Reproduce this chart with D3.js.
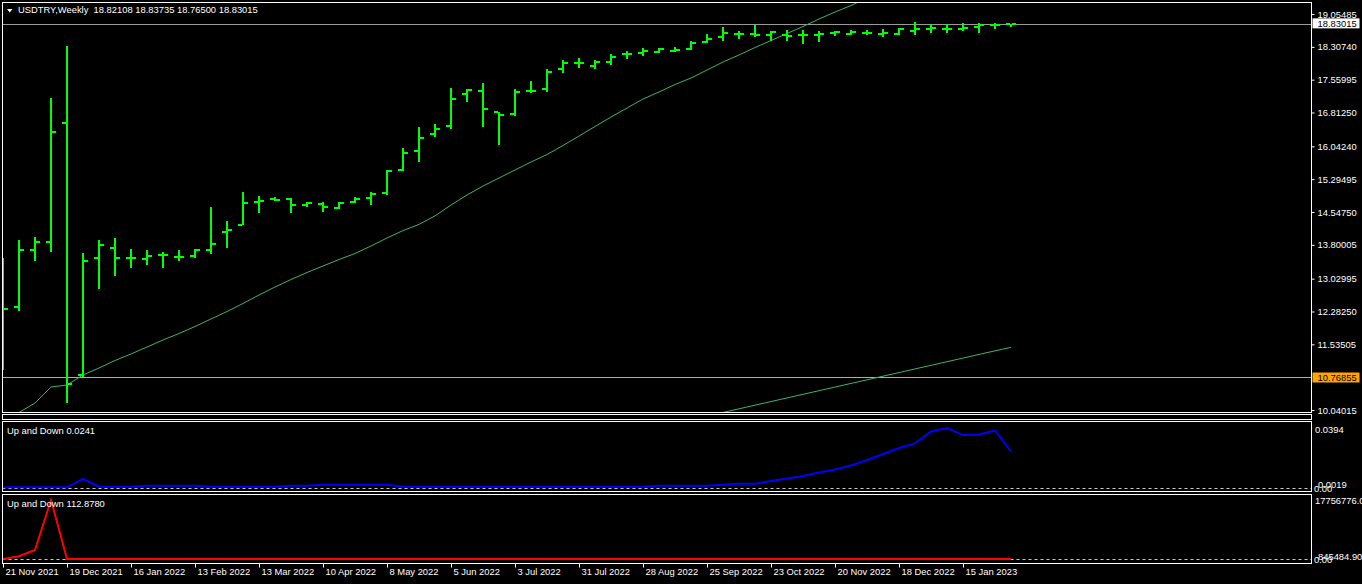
<!DOCTYPE html>
<html><head><meta charset="utf-8">
<script src="https://cdn.jsdelivr.net/npm/d3@7"></script>
<style>
html,body{margin:0;padding:0;background:#000;overflow:hidden}
svg{display:block}
text{font-family:"Liberation Sans",Arial,sans-serif;font-size:9.4px;fill:#fff;white-space:pre}
</style></head><body>
<svg id="c" width="1362" height="584"></svg>
<script>
// ---------- DATA ----------
const symbolTitle = "USDTRY,Weekly  18.82108 18.83735 18.76500 18.83015";
const dateLabels = ["21 Nov 2021","19 Dec 2021","16 Jan 2022","13 Feb 2022","13 Mar 2022","10 Apr 2022","8 May 2022","5 Jun 2022","3 Jul 2022","31 Jul 2022","28 Aug 2022","25 Sep 2022","23 Oct 2022","20 Nov 2022","18 Dec 2022","15 Jan 2023"];
const priceTicks = [19.05485,18.30740,17.55995,16.81250,16.04240,15.29495,14.54750,13.80005,13.02995,12.28250,11.53505,10.04015];
const bidPrice = 18.83015;
const levelPrice = 10.76855;

const open = [11.000,12.392,13.682,13.871,16.566,10.837,13.494,13.721,13.494,13.471,13.569,13.530,13.546,13.682,14.097,14.259,14.782,14.850,14.850,14.714,14.737,14.646,14.775,14.873,14.987,15.511,15.943,16.316,16.512,17.234,17.309,16.831,16.778,17.295,17.354,17.796,17.932,17.877,17.955,18.138,18.160,18.190,18.220,18.265,18.417,18.524,18.593,18.593,18.577,18.585,18.585,18.570,18.615,18.607,18.630,18.600,18.600,18.661,18.706,18.721,18.721,18.767,18.798,18.82108];
const high = [13.500,13.910,13.972,17.136,18.326,13.607,13.910,13.948,13.705,13.682,13.630,13.682,13.698,14.654,14.343,15.003,14.912,14.889,14.860,14.768,14.768,14.768,14.889,15.003,15.504,16.002,16.482,16.551,17.370,17.348,17.484,16.831,17.348,17.530,17.803,18.008,18.053,18.001,18.144,18.205,18.281,18.274,18.297,18.433,18.599,18.752,18.675,18.804,18.661,18.691,18.691,18.661,18.675,18.691,18.691,18.706,18.729,18.866,18.820,18.827,18.843,18.843,18.843,18.83735];
const low = [10.951,12.301,13.439,13.644,10.206,10.798,12.788,13.098,13.280,13.348,13.280,13.439,13.494,13.585,13.735,14.245,14.532,14.791,14.532,14.668,14.555,14.623,14.745,14.714,14.941,15.474,15.692,16.262,16.430,17.058,16.489,16.080,16.740,17.249,17.286,17.719,17.833,17.803,17.900,18.030,18.106,18.174,18.197,18.243,18.402,18.447,18.478,18.524,18.447,18.433,18.379,18.410,18.554,18.584,18.570,18.539,18.584,18.584,18.630,18.615,18.675,18.630,18.706,18.76500];
const close = [12.339,13.682,13.871,16.375,10.632,13.439,13.796,13.507,13.494,13.553,13.569,13.530,13.676,13.819,14.138,14.759,14.805,14.827,14.714,14.752,14.661,14.752,14.850,14.964,15.488,15.897,16.239,16.444,17.127,17.332,16.899,16.755,17.272,17.309,17.741,17.932,17.932,17.955,18.083,18.151,18.213,18.258,18.243,18.402,18.493,18.615,18.593,18.570,18.638,18.554,18.585,18.599,18.638,18.645,18.630,18.615,18.706,18.706,18.729,18.721,18.737,18.798,18.805,18.83015];

const maFast = [9.699,9.983,10.200,10.564,10.609,10.837,10.996,11.167,11.315,11.474,11.634,11.782,11.941,12.112,12.282,12.465,12.658,12.840,13.011,13.170,13.318,13.466,13.603,13.774,13.956,14.125,14.265,14.460,14.707,14.935,15.139,15.321,15.504,15.686,15.856,16.061,16.277,16.494,16.710,16.915,17.120,17.279,17.450,17.598,17.780,17.962,18.122,18.292,18.451,18.611,18.770,18.941,19.100,19.248,19.419,19.580,null,null,null,null,null,null,null,null];
const maSlow = [null,null,null,null,null,null,null,null,null,null,null,null,null,null,null,null,null,null,null,null,null,null,null,null,null,null,null,null,null,null,null,null,null,null,null,null,null,null,null,null,null,null,null,null,null,9.985,10.067,10.150,10.232,10.315,10.397,10.480,10.562,10.645,10.727,10.810,10.892,10.975,11.057,11.140,11.222,11.305,11.387,11.467];

const upDown1 = [0.0008,0.0008,0.0008,0.0008,0.0008,0.0062,0.0012,0.0012,0.0012,0.0018,0.0018,0.0018,0.0018,0.0012,0.0012,0.0012,0.0012,0.0012,0.0018,0.0018,0.0025,0.0025,0.0025,0.0025,0.0025,0.0012,0.0012,0.0012,0.0012,0.0012,0.0012,0.0012,0.0012,0.0012,0.0012,0.0012,0.0012,0.0012,0.0012,0.0012,0.0012,0.0018,0.0018,0.0018,0.0018,0.0025,0.0031,0.0031,0.0049,0.0065,0.0081,0.0104,0.0124,0.0150,0.0186,0.0225,0.0264,0.0294,0.0371,0.0394,0.0348,0.0352,0.0378,0.0241];
const upDown2 = [30000,845484.9,2709000,17756776,160.4,148.2,139.7,131.9,127.3,125.8,122.4,119.6,121.3,118.7,116.2,115.8,117.4,114.9,113.6,115.1,116.8,114.2,112.9,113.5,115.7,118.3,117.1,114.6,116.9,119.2,118.4,117.3,115.5,114.8,113.9,114.4,115.2,114.7,113.8,113.4,114.1,113.6,113.2,113.9,114.5,113.7,113.1,112.8,113.3,113.6,113.0,112.7,113.2,113.5,113.1,112.9,113.4,113.0,112.6,112.9,113.2,112.7,112.9,112.878];
const upDown1Title = "Up and Down 0.0241";
const upDown2Title = "Up and Down 112.8780";

// ---------- LAYOUT ----------
const svg = d3.select('#c');
svg.append('rect').attr('width',1362).attr('height',584).attr('fill','#000');
const L = 2.5, Rr = 1311.5;
const panels = {
  main:{top:2.5,bottom:412.5},
  empty:{top:414.5,bottom:419.5},
  sub1:{top:421.5,bottom:491.5},
  sub2:{top:494.5,bottom:563.5}
};
const defs = svg.append('defs');
Object.entries(panels).forEach(([k,p])=>{
  defs.append('clipPath').attr('id','clip-'+k).append('rect')
    .attr('x',L+0.5).attr('y',p.top+0.5).attr('width',Rr-L-1).attr('height',p.bottom-p.top-1);
});

const x = d3.scaleLinear().domain([0,63]).range([3,1011]);
const y = d3.scaleLinear().domain([10.04015,19.05485]).range([410,14]);
const y1 = d3.scaleLinear().domain([0,0.0394]).range([488.5,428]);
const y2 = d3.scaleLinear().domain([0,17756776]).range([559,500]);

// ---------- MAIN PANEL ----------
const gMain = svg.append('g').attr('clip-path','url(#clip-main)');

gMain.append('line').attr('x1',L).attr('x2',Rr)
  .attr('y1',Math.round(y(bidPrice))+0.5).attr('y2',Math.round(y(bidPrice))+0.5)
  .attr('stroke','#9a9a9a').attr('stroke-width',1);
gMain.append('line').attr('x1',L).attr('x2',Rr)
  .attr('y1',Math.round(y(levelPrice))-0.5).attr('y2',Math.round(y(levelPrice))-0.5)
  .attr('stroke','#ffa500').attr('stroke-width',1);

const maLine = (ys)=>d3.line().defined(d=>d!=null).x((d,i)=>x(i)).y(d=>ys(d));
gMain.append('path').datum(maFast).attr('d',maLine(y)).attr('fill','none')
  .attr('stroke','#3cb371').attr('stroke-width',1);
gMain.append('path').datum(maSlow).attr('d',maLine(y)).attr('fill','none')
  .attr('stroke','#3cb371').attr('stroke-width',1);

const bars = d3.range(open.length).map(i=>({i,o:open[i],h:high[i],l:low[i],c:close[i]}));
const gb = gMain.append('g').attr('fill','#00ff00').attr('shape-rendering','crispEdges');
bars.forEach(b=>{
  const cx = Math.round(x(b.i));
  const yh = Math.round(y(b.h)), yl = Math.round(y(b.l));
  gb.append('rect').attr('x',cx-1).attr('y',yh).attr('width',2).attr('height',Math.max(1,yl-yh));
  gb.append('rect').attr('x',cx-5).attr('y',Math.round(y(b.o))-1).attr('width',4).attr('height',2);
  gb.append('rect').attr('x',cx+1).attr('y',Math.round(y(b.c))-1).attr('width',4).attr('height',2);
});

// ---------- SUB PANELS ----------
const gS1 = svg.append('g').attr('clip-path','url(#clip-sub1)');
gS1.append('line').attr('x1',L).attr('x2',Rr).attr('y1',488.5).attr('y2',488.5)
  .attr('stroke','#c8c8c8').attr('stroke-dasharray','3,3');
gS1.append('path').datum(upDown1)
  .attr('d',d3.line().x((d,i)=>x(i)).y(d=>y1(d)))
  .attr('fill','none').attr('stroke','#0000ff').attr('stroke-width',2);

const gS2 = svg.append('g').attr('clip-path','url(#clip-sub2)');
gS2.append('line').attr('x1',L).attr('x2',Rr).attr('y1',559.5).attr('y2',559.5)
  .attr('stroke','#c8c8c8').attr('stroke-dasharray','3,3');
gS2.append('path').datum(upDown2)
  .attr('d',d3.line().x((d,i)=>x(i)).y(d=>y2(d)))
  .attr('fill','none').attr('stroke','#ff0000').attr('stroke-width',2);

// ---------- FRAMES ----------
Object.values(panels).forEach(p=>{
  svg.append('rect').attr('x',L).attr('y',p.top).attr('width',Rr-L).attr('height',p.bottom-p.top)
    .attr('fill','none').attr('stroke','#fff').attr('stroke-width',1);
});

// ---------- AXES ----------
const FONT = '"Liberation Sans",Arial,sans-serif';
const yAxis = d3.axisRight(y).tickValues(priceTicks).tickSize(3).tickPadding(3)
  .tickFormat(d3.format('.5f'));
const gy = svg.append('g').attr('transform',`translate(${Rr},0)`).call(yAxis);
gy.select('.domain').remove();
gy.selectAll('line').attr('stroke','#fff');
gy.selectAll('text').attr('fill','#fff').style('font-family',FONT).style('font-size','9.4px');

function priceLabel(v,bg){
  const yy = y(v);
  svg.append('rect').attr('x',1312.5).attr('y',yy-5.5).attr('width',47).attr('height',10).attr('fill',bg);
  svg.append('text').attr('x',1317.5).attr('y',yy+3.3).style('fill','#000').text(d3.format('.5f')(v));
}
priceLabel(bidPrice,'#ffffff');
priceLabel(levelPrice,'#ffa500');

const xAxis = d3.axisBottom(x).tickValues(d3.range(dateLabels.length).map(k=>k*4))
  .tickSize(4).tickPadding(1).tickFormat((d,i)=>dateLabels[i]);
const gx = svg.append('g').attr('transform',`translate(0,${panels.sub2.bottom})`).call(xAxis);
gx.select('.domain').remove();
gx.selectAll('line').attr('stroke','#fff');
gx.selectAll('text').attr('fill','#fff').attr('text-anchor','start').attr('dx',2)
  .style('font-family',FONT).style('font-size','9.4px');

// sub-panel scale labels (they overlap in the original too)
const subLabels = [
  {t:"0.0394",x:1315,y:430},{t:"0.0019",x:1318,y:485},{t:"0.00",x:1314,y:489},
  {t:"17756776.0",x:1315,y:501},{t:"845484.90",x:1318,y:556.5},{t:"0.00",x:1314,y:560}
];
subLabels.forEach(s=>svg.append('text').attr('x',s.x).attr('y',s.y+3.3).text(s.t));

svg.append('path').attr('d','M7,9L12.5,9L9.75,12.5Z').attr('fill','#fff');
svg.append('text').attr('x',18).attr('y',13.3).text(symbolTitle);
svg.append('text').attr('x',7).attr('y',434.3).text(upDown1Title);
svg.append('text').attr('x',7).attr('y',507.3).text(upDown2Title);
</script>
</body></html>
